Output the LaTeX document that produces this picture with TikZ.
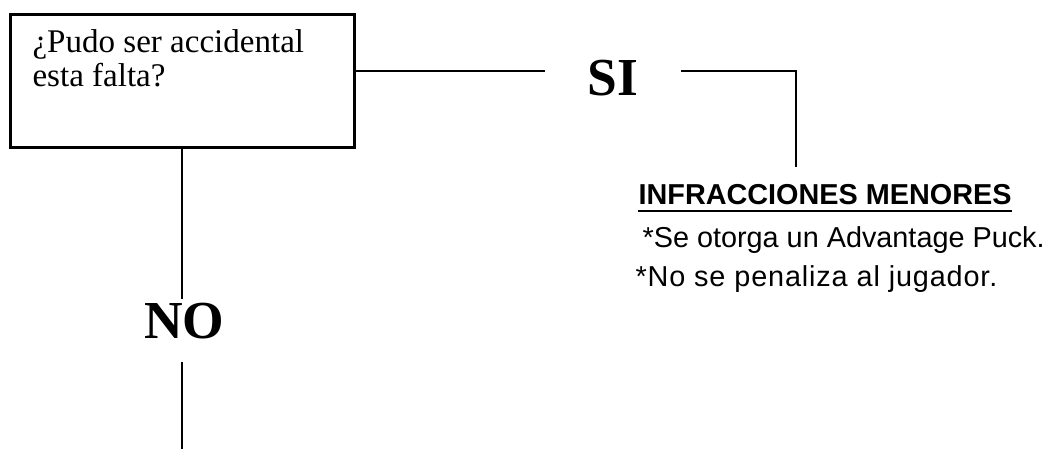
\documentclass[tikz,border=0pt]{standalone}
\usepackage{fontspec}
\setmainfont{Liberation Serif}
\setsansfont{Liberation Sans}
\usetikzlibrary{positioning}

\tikzset{
  linea/.style={line width=1.4pt},
  grande/.style={font=\fontsize{38}{40}\selectfont\bfseries, inner sep=0pt},
  nota/.style={font=\sffamily\fontsize{20.5}{24}\selectfont, inner sep=0pt, anchor=base west}
}

\begin{document}
\begin{tikzpicture}[>=stealth, thick]
    \useasboundingbox (0,0) rectangle (26.3,11.225);

    \node[draw, line width=2pt, minimum width=8.6cm, minimum height=3.325cm, anchor=north west] (q) at (0.225,10.9) {};
    \node[anchor=base west, align=left, inner sep=0pt, font=\fontsize{23.5}{24.2}\selectfont] (qtxt) at (0.8,9.05) {¿Pudo ser accidental\\esta falta?};

    \coordinate (h) at (0,9.45);
    \node[grande, inner xsep=1.05cm, anchor=base] (si) at (15.325,8.825) {SI};
    \coordinate (c) at (19.9,7.05);

    \draw[linea] (q.east |- h) -- (si.west |- h);
    \draw[linea] (si.east |- h) -| (c);

    \node[nota, font=\sffamily\bfseries\fontsize{20.5}{24}\selectfont] (inf) at (15.95,6.1) {INFRACCIONES MENORES};
    \draw[line width=1.4pt] ([yshift=-4.3pt]inf.base west) -- ([yshift=-4.3pt]inf.base east);
    \node[nota] (n1) at (16.05,5.05) {*Se otorga un Advantage Puck.};
    \node[nota] (n2) at (15.875,4.05) {\addfontfeature{LetterSpace=3}*No se penaliza al jugador.};

    \node[grande, inner ysep=2pt, anchor=base] (no) at (4.61,2.775) {NO};
    \coordinate (fin) at (q.south |- 0,0);

    \draw[linea] (q.south) -- (q.south |- no.north);
    \draw[linea] ([yshift=-0.5cm]no.south -| fin) -- (fin);

\end{tikzpicture}
\end{document}
